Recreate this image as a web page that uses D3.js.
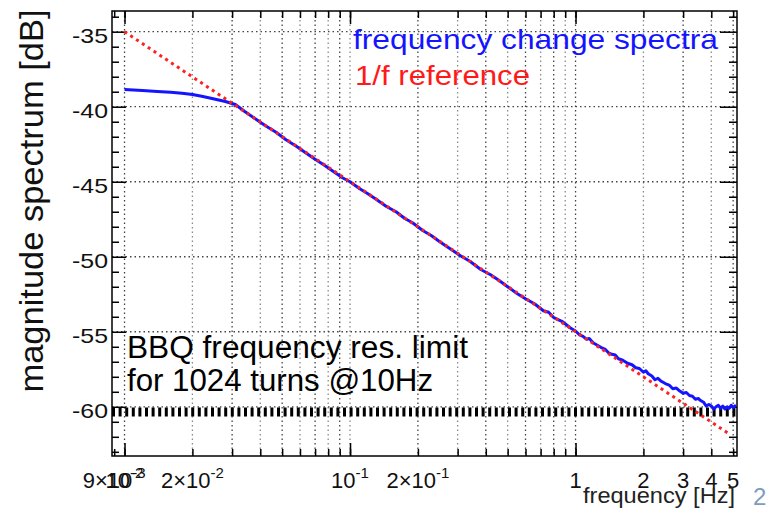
<!DOCTYPE html>
<html>
<head>
<meta charset="utf-8">
<script src="https://cdnjs.cloudflare.com/ajax/libs/d3/7.8.5/d3.min.js"></script>
<style>
  body { margin: 0; background: #fff; }
  svg { display: block; font-family: "Liberation Sans", Arial, sans-serif; }
</style>
</head>
<body>
<div id="chart"></div>
<script>
const spectrumFreq = [0.0100, 0.0120, 0.0140, 0.0160, 0.0180, 0.0200, 0.0220, 0.0250, 0.0280, 0.0310,
  0.034, 0.038, 0.042, 0.047, 0.052, 0.058, 0.064, 0.070, 0.077, 0.085, 0.093,
  0.10, 0.11, 0.12, 0.13, 0.145, 0.16, 0.175, 0.19, 0.21, 0.23, 0.25, 0.28, 0.31, 0.34, 0.38,
  0.42, 0.46, 0.50, 0.55, 0.60, 0.66, 0.72, 0.76, 0.80, 0.87, 0.95,
  1.00, 1.04, 1.08, 1.12, 1.15, 1.20, 1.25, 1.30, 1.35, 1.40, 1.45, 1.50, 1.55, 1.62, 1.70, 1.78, 1.85, 1.92,
  2.00, 2.05, 2.10, 2.18, 2.25, 2.32, 2.40, 2.50, 2.60, 2.70, 2.80, 2.90,
  3.00, 3.10, 3.20, 3.30, 3.40, 3.50, 3.60, 3.70, 3.80, 3.90,
  4.00, 4.10, 4.20, 4.30, 4.40, 4.50, 4.60, 4.70, 4.80, 4.90, 5.00, 5.15]
const spectrumDb = [-38.85, -38.92, -38.98, -39.03, -39.10, -39.18, -39.30, -39.48, -39.65, -39.85,
  -40.30, -40.80, -41.25, -41.70, -42.20, -42.65, -43.10, -43.50, -43.90, -44.35, -44.75,
  -45.00, -45.45, -45.80, -46.15, -46.65, -47.00, -47.45, -47.75, -48.25, -48.60, -49.00, -49.50, -49.95, -50.30, -50.85,
  -51.20, -51.60, -52.00, -52.45, -52.80, -53.15, -53.60, -53.70, -54.05, -54.30, -54.75,
  -54.95, -55.20, -55.30, -55.50, -55.45, -55.75, -55.90, -56.05, -56.15, -56.40, -56.50, -56.55, -56.80, -56.90, -57.10, -57.20, -57.40, -57.45,
  -57.70, -57.60, -57.80, -57.95, -58.20, -58.10, -58.30, -58.45, -58.55, -58.80, -58.75, -58.95,
  -59.10, -59.05, -59.25, -59.30, -59.50, -59.45, -59.60, -59.70, -59.95, -59.85,
  -59.95, -60.15, -60.00, -59.90, -60.10, -59.95, -60.15, -60.00, -60.10, -59.90, -60.05, -59.90]

// 1/f reference line end points
const refFreq = [0.01, 4.85]
const refDb = [-35.0, -61.85]

const bbqLimit = -60.35

const xTicks = [0.009, 0.01, 0.02, 0.03, 0.04, 0.05, 0.06, 0.07, 0.08, 0.09,
  0.1, 0.2, 0.3, 0.4, 0.5, 0.6, 0.7, 0.8, 0.9, 1, 2, 3, 4, 5]
const xDecades = [0.01, 0.1, 1]
const xLabelValues = [0.009, 0.01, 0.02, 0.1, 0.2, 1, 2, 3, 4, 5]
const xLabelBase = ["9×10", "10", "2×10", "10", "2×10", "1", "2", "3", "4", "5"]
const xLabelExp = ["-3", "-2", "-2", "-1", "-1", "", "", "", "", ""]

const yMajor = [-60, -55, -50, -45, -40, -35]
const yLabels = ["-60", "-55", "-50", "-45", "-40", "-35"]
const yMinor = [-63, -62, -61, -59, -58, -57, -56, -54, -53, -52, -51, -49, -48, -47, -46,
  -44, -43, -42, -41, -39, -38, -37, -36, -34]

;(function () {
  const margin = { top: 11, left: 112 }
  const width = 625, height = 445

  const svg = d3.select("#chart")
    .append("svg")
    .attr("width", 772)
    .attr("height", 513)

  const g = svg.append("g")
    .attr("transform", "translate(" + margin.left + "," + margin.top + ")")

  const x = d3.scaleLog().domain([0.0088, 5.2]).range([0, width])
  const y = d3.scaleLinear().domain([-63.28, -33.62]).range([height, 0])

  // dotted grid
  g.selectAll(".vgrid")
    .data(xTicks.filter(d => d >= 0.01))
    .enter().append("line")
    .attr("x1", d => x(d)).attr("x2", d => x(d))
    .attr("y1", 0).attr("y2", height)
    .attr("stroke", (d, i) => i % 2 ? "#8a8a8a" : "#444")
    .attr("stroke-width", 1.3)
    .attr("stroke-dasharray", "1.5,3")

  g.selectAll(".hgrid")
    .data(yMajor)
    .enter().append("line")
    .attr("x1", 0).attr("x2", width)
    .attr("y1", d => y(d)).attr("y2", d => y(d))
    .attr("stroke", "#444")
    .attr("stroke-width", 1.3)
    .attr("stroke-dasharray", "1.5,3")

  // ticks on all four sides, pointing inwards
  function ticks(axis, tx, ty) {
    const a = g.append("g")
      .attr("transform", "translate(" + tx + "," + ty + ")")
      .call(axis.tickFormat(""))
    a.select(".domain").remove()
    a.selectAll("line").attr("stroke", "#000").attr("stroke-width", 1.5)
  }
  ticks(d3.axisBottom(x).tickValues(xTicks).tickSize(-7), 0, height)
  ticks(d3.axisBottom(x).tickValues(xDecades).tickSize(-13), 0, height)
  ticks(d3.axisTop(x).tickValues(xTicks).tickSize(-7), 0, 0)
  ticks(d3.axisTop(x).tickValues(xDecades).tickSize(-13), 0, 0)
  ticks(d3.axisLeft(y).tickValues(yMinor).tickSize(-7), 0, 0)
  ticks(d3.axisLeft(y).tickValues(yMajor).tickSize(-14), 0, 0)
  ticks(d3.axisRight(y).tickValues(yMinor).tickSize(-8), width, 0)
  ticks(d3.axisRight(y).tickValues(yMajor).tickSize(-17), width, 0)

  // frame
  g.append("rect")
    .attr("width", width).attr("height", height)
    .attr("fill", "none").attr("stroke", "#000").attr("stroke-width", 1.5)

  // BBQ resolution limit
  g.append("line")
    .attr("x1", 0).attr("x2", width)
    .attr("y1", y(bbqLimit)).attr("y2", y(bbqLimit))
    .attr("stroke", "#000")
    .attr("stroke-width", 9)
    .attr("stroke-dasharray", "3,3.6")

  const line = d3.line()
    .x(d => x(d[0]))
    .y(d => y(d[1]))

  g.append("path")
    .datum(d3.zip(spectrumFreq, spectrumDb))
    .attr("d", line)
    .attr("fill", "none")
    .attr("stroke", "#1414ff")
    .attr("stroke-width", 3)
    .attr("stroke-linejoin", "round")

  g.append("path")
    .datum(d3.zip(refFreq, refDb))
    .attr("d", line)
    .attr("fill", "none")
    .attr("stroke", "#ff2020")
    .attr("stroke-width", 3)
    .attr("stroke-dasharray", "3,4")

  // axis labels
  svg.selectAll(".ylab")
    .data(yMajor)
    .enter().append("text")
    .attr("x", 108)
    .attr("y", d => margin.top + y(d) + 11)
    .attr("text-anchor", "end")
    .attr("font-size", 21)
    .attr("textLength", 36)
    .attr("lengthAdjust", "spacingAndGlyphs")
    .attr("fill", "#111")
    .text((d, i) => yLabels[i])

  xLabelValues.forEach(function (v, i) {
    const t = svg.append("text")
      .attr("x", margin.left + x(v))
      .attr("y", 488)
      .attr("text-anchor", "middle")
      .attr("font-size", 22)
      .attr("fill", "#111")
    t.append("tspan").text(xLabelBase[i])
    if (xLabelExp[i]) {
      t.append("tspan").attr("dy", -10).attr("font-size", 15).text(xLabelExp[i])
    }
  })

  svg.append("text")
    .attr("transform", "translate(43,201) rotate(-90)")
    .attr("text-anchor", "middle")
    .attr("font-size", 34)
    .attr("textLength", 383)
    .attr("lengthAdjust", "spacingAndGlyphs")
    .attr("fill", "#111")
    .text("magnitude spectrum [dB]")

  svg.append("text")
    .attr("x", 735).attr("y", 503)
    .attr("text-anchor", "end")
    .attr("font-size", 22)
    .attr("textLength", 152)
    .attr("lengthAdjust", "spacingAndGlyphs")
    .attr("fill", "#222")
    .text("frequency [Hz]")

  // legend
  svg.append("text")
    .attr("x", 353).attr("y", 49)
    .attr("font-size", 28)
    .attr("textLength", 365)
    .attr("lengthAdjust", "spacingAndGlyphs")
    .attr("fill", "#1414ff")
    .text("frequency change spectra")

  svg.append("text")
    .attr("x", 355).attr("y", 85)
    .attr("font-size", 28)
    .attr("textLength", 175)
    .attr("lengthAdjust", "spacingAndGlyphs")
    .attr("fill", "#ff1a1a")
    .text("1/f reference")

  svg.append("text")
    .attr("x", 127).attr("y", 358)
    .attr("font-size", 31)
    .attr("textLength", 341)
    .attr("lengthAdjust", "spacingAndGlyphs")
    .attr("fill", "#000")
    .text("BBQ frequency res. limit")

  svg.append("text")
    .attr("x", 127).attr("y", 391)
    .attr("font-size", 31)
    .attr("textLength", 306)
    .attr("lengthAdjust", "spacingAndGlyphs")
    .attr("fill", "#000")
    .text("for 1024 turns @10Hz")

  // slide number
  svg.append("text")
    .attr("x", 753).attr("y", 505)
    .attr("font-size", 24)
    .attr("fill", "#7f9cbf")
    .text("2")
})()
</script>
</body>
</html>
